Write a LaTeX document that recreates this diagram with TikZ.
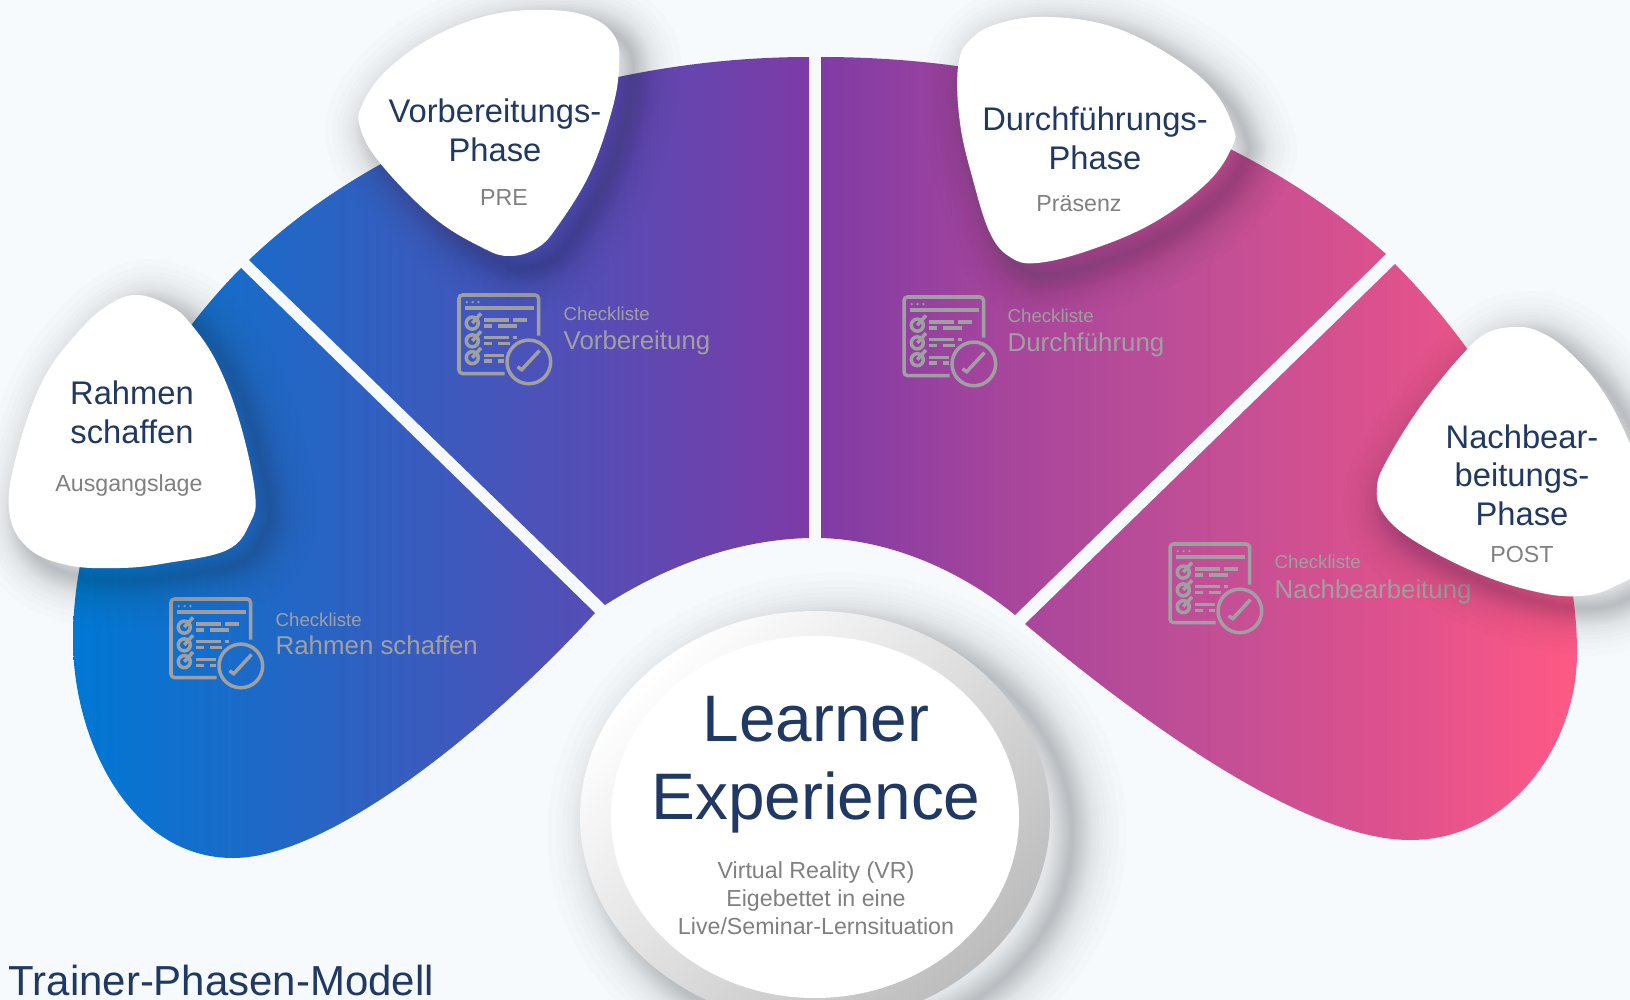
\documentclass[tikz,border=0pt]{standalone}
\usepackage{fontspec}
\setmainfont{Liberation Sans}
\definecolor{navy}{RGB}{31,56,100}
\definecolor{subgray}{RGB}{128,128,128}
\definecolor{chkgray}{RGB}{160,160,162}
\definecolor{paper}{RGB}{247,250,253}
\definecolor{shadowgray}{RGB}{55,62,70}
\pgfdeclarehorizontalshading{fangrad}{100bp}{
	rgb(0bp)=(0,0.471,0.831);
	rgb(25bp)=(0,0.471,0.831);
	rgb(32.5bp)=(0.14,0.40,0.77);
	rgb(42.5bp)=(0.34,0.30,0.71);
	rgb(49.5bp)=(0.49,0.23,0.65);
	rgb(55.8bp)=(0.65,0.27,0.61);
	rgb(62bp)=(0.745,0.306,0.59);
	rgb(69bp)=(0.87,0.32,0.55);
	rgb(75bp)=(1,0.35,0.52);
	rgb(100bp)=(1,0.35,0.52)}
\tikzset{
	head/.style={text=navy,font=\fontsize{9.3}{11}\selectfont,align=center},
	sub/.style={text=subgray,font=\fontsize{6.6}{8}\selectfont,align=center},
	chk/.style={text=chkgray,font=\fontsize{5.3}{6.5}\selectfont,anchor=base west,inner sep=0pt},
	chkname/.style={text=chkgray,font=\fontsize{7.35}{8}\selectfont,anchor=base west,inner sep=0pt},
	softshadow/.style={draw=shadowgray,opacity=0.016,line join=round},
	icon/.style={draw=chkgray,line width=1pt}
}
\newcommand{\softshadow}[4]{\foreach \w in {1,2,...,13,15,17,19,22,25,29,34}{\path[softshadow,shift={(#1,#2)},line width=\w*#3*0.569pt] #4;}}
\newcommand{\blobrahmen}{plot[smooth cycle,tension=0.65] coordinates {(138,295) (170,306) (190,323) (217,363) (240,423) (255,493) (250,523) (227,550) (167,563) (120,568) (67,565) (27,547) (9,510) (17,453) (43,380) (80,330) (110,304)}}
\newcommand{\blobvor}{plot[smooth cycle,tension=0.65] coordinates {(547,10) (590,17) (615,37) (619,67) (612,110) (590,173) (557,227) (537,248) (510,256) (483,248) (433,217) (380,163) (360,127) (363,103) (387,70) (433,37) (490,15)}}
\newcommand{\blobdurch}{plot[smooth cycle,tension=0.65] coordinates {(1050,17) (1000,23) (970,40) (958,67) (960,123) (973,180) (990,233) (1010,257) (1037,263) (1090,250) (1153,223) (1207,183) (1232,147) (1233,127) (1213,90) (1173,57) (1113,27)}}
\newcommand{\blobnach}{plot[smooth cycle,tension=0.65] coordinates {(1517,327) (1487,333) (1460,357) (1420,407) (1387,460) (1377,487) (1383,513) (1413,540) (1477,573) (1537,592) (1580,596) (1613,587) (1640,565) (1650,500) (1627,437) (1600,387) (1567,350) (1540,332)}}
\newcommand{\checkicon}[1]{
	\begin{scope}[shift={(#1)},scale=0.97,icon]
		\draw[rounded corners=1pt] (82,42) -- (82,0) -- (0,0) -- (0,81) -- (47,81);
		\draw[line width=1.2pt] (6,13) -- (77,13);
		\foreach \x in {8,14,20} {\fill[chkgray] (\x,7.3) circle (1.3);}
		\foreach \y in {29,47.3,64.6} {
			\draw (13.7,\y) circle (6.2);
			\draw (13.7,\y) -- +(9,-10);
		}
		\draw (26,25.7) -- (52,25.7) (56,25.7) -- (70,25.7);
		\draw (26,31.7) -- (34,31.7) (40,31.7) -- (60,31.7);
		\draw (26,44) -- (52,44) (56,44) -- (60,44);
		\draw (26,50) -- (34,50) (40,50) -- (53,50);
		\draw (26,62.3) -- (46,62.3);
		\draw (26,68.3) -- (34,68.3) (40,68.3) -- (46,68.3);
		\draw (72,69) circle (22.5);
		\draw (60.3,74) -- (64.7,77) -- (83,57.3);
	\end{scope}
}

\begin{document}
\begin{tikzpicture}[x=0.01cm,y=-0.01cm]
	\useasboundingbox (0,0) rectangle (1630,1000);
	\clip (0,0) rectangle (1630,1000);
	\fill[paper] (0,0) rectangle (1630,1000);

	% the four segments share one gradient
	\shade[shading=fangrad]
		(595,613) .. controls (490,728) and (330,858) .. (233,858) .. controls (130,858) and (73,740) .. (73,640) .. controls (73,500) and (150,360) .. (241,268) -- cycle
		(249,260) .. controls (385,130) and (600,57) .. (809,57) -- (809,538) .. controls (730,540) and (660,570) .. (605,605) -- cycle
		(821,57) .. controls (1040,57) and (1240,125) .. (1386,254) -- (1015,615) .. controls (960,570) and (890,540) .. (821,538) -- cycle
		(1025,624) .. controls (1130,712) and (1300,840) .. (1410,840) .. controls (1510,840) and (1577,745) .. (1577,653) .. controls (1577,500) and (1490,360) .. (1395,264) -- cycle;

	\checkicon{171,599}
	\checkicon{459,295}
	\checkicon{904,297}
	\checkicon{1170,544}

	\node[chk] (chk1) at (275,626) {Checkliste};
	\node[chkname] (name1) at (275,654) {Rahmen schaffen};
	\node[chk] (chk2) at (563,320) {Checkliste};
	\node[chkname] (name2) at (563,349) {Vorbereitung};
	\node[chk] (chk3) at (1007,322) {Checkliste};
	\node[chkname] (name3) at (1007,351) {Durchführung};
	\node[chk] (chk4) at (1274,568) {Checkliste};
	\node[chkname] (name4) at (1274,598) {Nachbearbeitung};

	\softshadow{14}{12}{1.4}{\blobrahmen}
	\softshadow{14}{12}{1.4}{\blobvor}
	\softshadow{14}{12}{1.4}{\blobdurch}
	\softshadow{14}{12}{1.4}{\blobnach}
	\fill[white] \blobrahmen;
	\fill[white] \blobvor;
	\fill[white] \blobdurch;
	\fill[white] \blobnach;

	\node[head] (rahmen) at (132,412) {Rahmen\\schaffen};
	\node[sub] (ausgang) at (129,485) {Ausgangslage};
	\node[head] (vor) at (495,130) {Vorbereitungs-\\Phase};
	\node[sub] (pre) at (504,198) {PRE};
	\node[head] (durch) at (1095,138) {Durchführungs-\\Phase};
	\node[sub] (praesenz) at (1079,204) {Präsenz};
	\node[head] (nach) at (1522,475) {Nachbear-\\beitungs-\\Phase};
	\node[sub] (post) at (1522,555) {POST};

	% centre disc
	\softshadow{22}{16}{1.6}{(815,817) ellipse [x radius=235,y radius=206]}
	\shade[top color=white,middle color=white!95!black,bottom color=black!26,shading angle=45] (815,817) ellipse [x radius=235,y radius=206];
	\fill[white] (815,817) ellipse [x radius=204,y radius=181];
	\node[text=navy,font=\fontsize{18.7}{22.2}\selectfont,align=center] (learner) at (816,765) {Learner\\Experience};
	\node[sub,font=\fontsize{6.6}{7.95}\selectfont] (vr) at (816,898) {Virtual Reality (VR)\\Eigebettet in eine\\Live/Seminar-Lernsituation};

	\node[text=navy,font=\fontsize{11.93}{14}\selectfont,anchor=base west,inner sep=0pt] (titel) at (8,995) {Trainer-Phasen-Modell};
\end{tikzpicture}
\end{document}
